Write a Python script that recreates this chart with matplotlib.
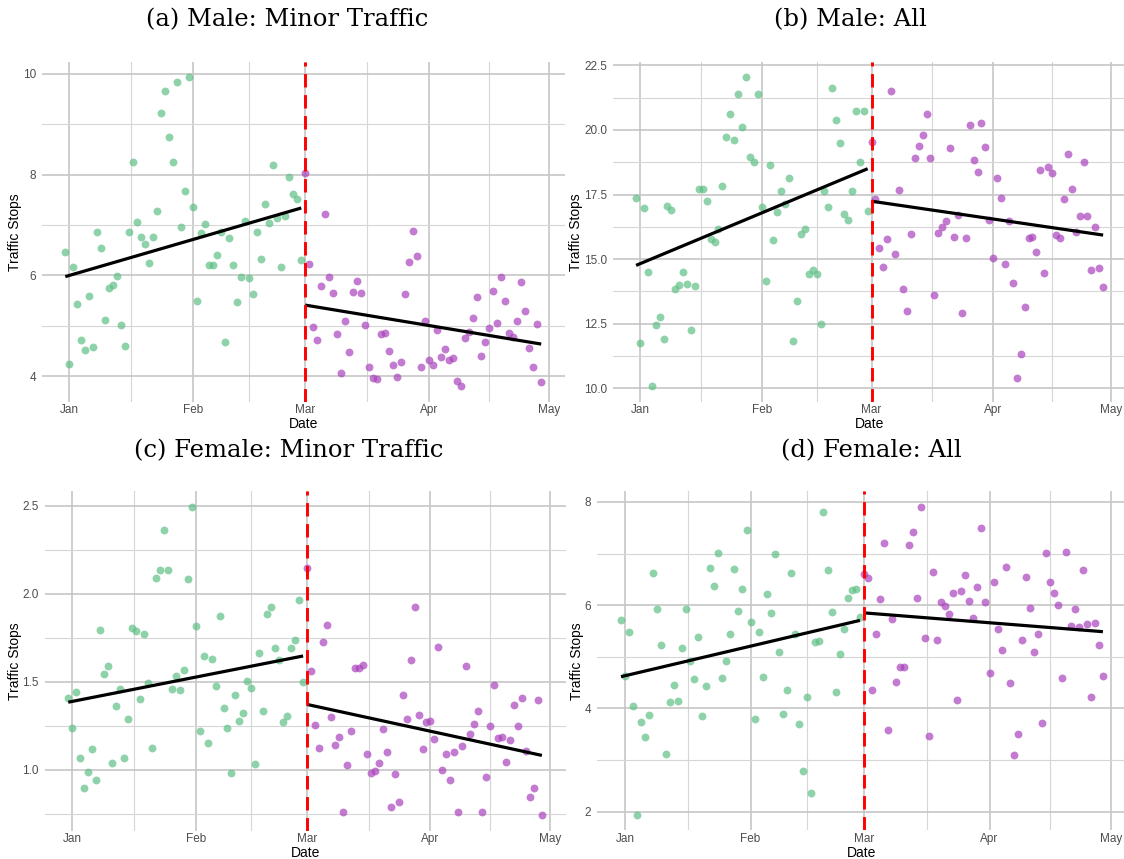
import numpy as np
import pandas as pd
import matplotlib
matplotlib.use('Agg')
import matplotlib.pyplot as plt
import matplotlib.dates as mdates
from matplotlib.ticker import MultipleLocator, FormatStrFormatter, FixedLocator

# daily stop counts, Dec 31 - Feb 28 (before) and Mar 1 - Apr 29 (after)
pre_dates = pd.date_range("2018-12-31", periods=60, freq="D")
post_dates = pd.date_range("2019-03-01", periods=60, freq="D")

male_minor_pre = [6.47, 4.24, 6.16, 5.44, 4.71, 4.51, 5.59, 4.57, 6.87, 6.54,
                  5.11, 5.76, 5.81, 5.99, 5.02, 4.60, 6.86, 8.26, 7.07, 6.77,
                  6.63, 6.24, 6.77, 7.28, 9.22, 9.66, 8.75, 8.26, 9.83, 6.97,
                  7.68, 9.93, 7.35, 5.49, 6.85, 7.03, 6.21, 6.21, 6.40, 6.87,
                  4.68, 6.75, 6.21, 5.47, 5.97, 7.09, 5.94, 5.63, 6.86, 6.32,
                  7.42, 7.05, 8.20, 7.13, 6.17, 7.17, 7.96, 7.62, 7.52, 6.31]
male_minor_post = [8.03, 6.23, 4.97, 4.72, 5.79, 7.21, 5.96, 5.65, 4.84, 4.07,
                   5.10, 4.48, 5.68, 5.89, 5.66, 5.01, 4.18, 3.96, 3.95, 4.84,
                   4.85, 4.49, 4.22, 3.98, 4.28, 5.64, 6.27, 6.89, 6.39, 4.19,
                   5.09, 4.33, 4.22, 4.91, 4.38, 4.54, 4.32, 4.36, 3.91, 3.80,
                   4.76, 4.87, 5.16, 5.57, 4.41, 4.68, 4.96, 5.70, 5.06, 5.96,
                   5.49, 4.86, 4.78, 5.09, 5.87, 5.30, 4.55, 4.19, 5.03, 3.89]

male_all_pre = [17.38, 11.76, 16.98, 14.52, 10.08, 12.46, 12.75, 11.89, 17.05, 16.90,
                13.83, 13.98, 14.50, 14.02, 12.25, 13.97, 17.70, 17.70, 17.24, 15.78,
                15.66, 16.18, 17.83, 19.72, 20.63, 19.60, 21.38, 20.12, 22.03, 18.97,
                18.75, 21.39, 17.01, 14.15, 18.65, 15.74, 16.83, 17.64, 17.14, 18.13,
                11.85, 13.36, 15.97, 16.15, 14.43, 14.58, 14.42, 12.49, 17.64, 17.01,
                21.61, 20.38, 19.49, 16.76, 16.50, 17.65, 20.72, 18.76, 20.75, 16.85]
male_all_post = [19.55, 17.33, 15.44, 14.69, 15.79, 21.49, 15.20, 17.69, 13.85, 12.99,
                 15.96, 18.91, 19.36, 19.81, 20.60, 18.92, 13.61, 16.00, 16.24, 16.49,
                 19.29, 15.86, 16.71, 12.93, 15.82, 20.19, 18.85, 18.39, 20.26, 19.32,
                 16.53, 15.05, 18.14, 17.38, 14.81, 16.49, 14.07, 10.41, 11.32, 13.15,
                 15.80, 15.86, 15.29, 18.44, 14.45, 18.58, 18.35, 15.95, 15.83, 17.33,
                 19.06, 17.72, 16.06, 16.67, 18.76, 16.67, 14.59, 16.23, 14.65, 13.93]

female_minor_pre = [1.410, 1.235, 1.444, 1.064, 0.898, 0.985, 1.117, 0.939, 1.795, 1.544,
                    1.588, 1.040, 1.362, 1.457, 1.064, 1.286, 1.804, 1.787, 1.404, 1.774,
                    1.493, 1.121, 2.090, 2.136, 2.365, 2.136, 1.457, 1.531, 1.453, 1.567,
                    2.083, 2.496, 1.817, 1.218, 1.647, 1.150, 1.628, 1.478, 1.876, 1.353,
                    1.237, 0.979, 1.425, 1.279, 1.320, 1.504, 1.463, 1.030, 1.662, 1.334,
                    1.886, 1.923, 1.694, 1.624, 1.271, 1.303, 1.694, 1.736, 1.963, 1.500]
female_minor_post = [2.147, 1.561, 1.256, 1.123, 1.726, 1.823, 1.300, 1.140, 1.184, 0.761,
                     1.025, 1.220, 1.576, 1.578, 1.594, 1.089, 0.979, 0.992, 1.036, 1.231,
                     1.099, 0.789, 0.973, 0.818, 1.423, 1.288, 1.624, 1.925, 1.313, 1.116,
                     1.269, 1.277, 1.174, 1.696, 1.000, 1.089, 0.939, 1.102, 0.757, 1.136,
                     1.592, 1.201, 1.262, 1.332, 0.759, 0.960, 1.250, 1.484, 1.178, 1.188,
                     1.042, 1.167, 1.368, 1.246, 1.408, 1.108, 0.844, 0.896, 1.396, 0.742]

female_all_pre = [5.71, 4.63, 5.48, 4.04, 1.94, 3.74, 3.45, 3.88, 6.62, 5.93,
                  5.22, 3.12, 4.12, 4.45, 4.14, 5.17, 5.93, 4.92, 4.57, 5.39,
                  3.85, 4.43, 6.73, 6.37, 7.02, 4.59, 4.92, 5.45, 6.70, 5.88,
                  6.31, 7.46, 5.67, 3.80, 5.48, 4.61, 6.22, 5.85, 7.00, 5.09,
                  3.90, 4.35, 6.62, 5.44, 3.70, 2.78, 4.22, 2.37, 5.28, 5.31,
                  7.81, 6.68, 5.86, 4.32, 5.06, 5.54, 6.14, 6.29, 6.31, 5.77]
female_all_post = [6.61, 6.52, 4.35, 5.45, 6.12, 7.21, 3.58, 5.73, 4.51, 4.80,
                   4.80, 7.17, 7.42, 6.13, 7.91, 5.37, 3.47, 6.64, 5.32, 6.06,
                   5.98, 5.83, 6.24, 4.16, 6.27, 6.59, 6.09, 5.76, 6.35, 7.50,
                   6.06, 4.69, 6.44, 5.53, 5.13, 6.74, 4.49, 3.09, 3.50, 5.33,
                   6.55, 5.95, 5.09, 5.45, 3.72, 7.01, 6.44, 6.24, 6.00, 4.59,
                   7.04, 5.60, 5.92, 5.57, 6.68, 5.64, 4.23, 5.65, 5.22, 4.63]

panels = [
    ("(a) Male: Minor Traffic", male_minor_pre, male_minor_post, 2, 1, "%g"),
    ("(b) Male: All", male_all_pre, male_all_post, 2.5, 1.25, "%.1f"),
    ("(c) Female: Minor Traffic", female_minor_pre, female_minor_post, 0.5, 0.25, "%.1f"),
    ("(d) Female: All", female_all_pre, female_all_post, 2, 1, "%g"),
]

# axes boxes in pixels: left, top, right, bottom
W, H = 1124, 859
boxes = [(41.5, 62, 565, 401.7), (612.7, 62, 1126.5, 401.7),
         (44.6, 491.2, 565.6, 830.5), (596.9, 491.2, 1127, 830.2)]
title_pos = [(287, 20), (850, 20), (289, 451), (871, 451)]

green = "#5FBF85"
purple = "#A943BC"
cutoff = mdates.date2num(pd.Timestamp("2019-03-01"))
month_starts = pd.to_datetime(["2019-01-01", "2019-02-01", "2019-03-01",
                               "2019-04-01", "2019-05-01"])
month_nums = mdates.date2num(month_starts)
mid_nums = (month_nums[:-1] + month_nums[1:]) / 2

x_pre = mdates.date2num(pre_dates)
x_post = mdates.date2num(post_dates)
x_lo, x_hi = x_pre[0], x_post[-1]
x_pad = 0.05 * (x_hi - x_lo)

fig = plt.figure(figsize=(W / 100, H / 100), dpi=100)

for (title, pre, post, major, minor, fmt), box, tpos in zip(panels, boxes, title_pos):
    l, t, r, b = box
    ax = fig.add_axes([l / W, 1 - b / H, (r - l) / W, (b - t) / H])

    ax.scatter(x_pre, pre, s=32, color=green, alpha=0.7, linewidths=0, zorder=3)
    ax.scatter(x_post, post, s=32, color=purple, alpha=0.7, linewidths=0, zorder=3)

    # separate linear fits before and after the cutoff
    for xn, vals in [(x_pre, pre), (x_post, post)]:
        k, c = np.polyfit(xn - cutoff, vals, 1)
        xe = np.array([xn[0], xn[-1]])
        ax.plot(xe, k * (xe - cutoff) + c, color="black", lw=2.3, zorder=4,
                solid_capstyle="butt")

    ax.axvline(cutoff, color="#FF0000", lw=2.1, ls=(0, (4.6, 2.6)), zorder=5)

    y_all = np.concatenate([pre, post])
    y_pad = 0.05 * (y_all.max() - y_all.min())
    ax.set_xlim(x_lo - x_pad, x_hi + x_pad)
    ax.set_ylim(y_all.min() - y_pad, y_all.max() + y_pad)

    ax.xaxis.set_major_locator(FixedLocator(month_nums))
    ax.xaxis.set_minor_locator(FixedLocator(mid_nums))
    ax.xaxis.set_major_formatter(mdates.DateFormatter("%b"))
    ax.yaxis.set_major_locator(MultipleLocator(major))
    ax.yaxis.set_minor_locator(MultipleLocator(minor))
    ax.yaxis.set_major_formatter(FormatStrFormatter(fmt))

    ax.grid(which="major", color="#C6C6C6", lw=1.2)
    ax.grid(which="minor", color="#D6D6D6", lw=0.8)
    ax.set_axisbelow(True)
    for s in ax.spines.values():
        s.set_visible(False)
    ax.tick_params(which="both", length=0, labelsize=8.5, labelcolor="#4D4D4D")
    ax.tick_params(axis="y", pad=4)
    ax.tick_params(axis="x", pad=2)
    for lab in ax.get_xticklabels() + ax.get_yticklabels():
        lab.set_family("Liberation Sans")

    ax.set_xlabel("Date", fontsize=10, family="Liberation Sans", labelpad=0.5)
    ax.set_ylabel("Traffic Stops", fontsize=10, family="Liberation Sans", labelpad=0.5)

    fig.text(tpos[0] / W, 1 - tpos[1] / H, title, ha="center", va="center",
             family="DejaVu Serif", fontsize=17.5)

fig.savefig("out.png", dpi=100)
